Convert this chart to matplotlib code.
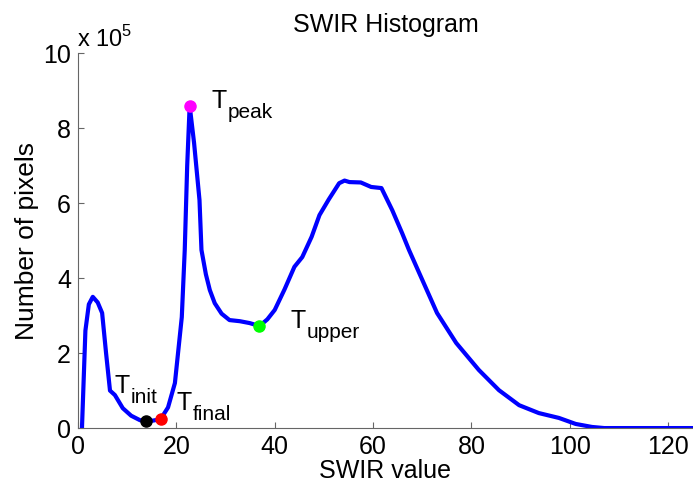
import matplotlib
matplotlib.use("Agg")
import matplotlib.pyplot as plt

plt.rcParams['font.family'] = ['Liberation Sans', 'DejaVu Sans']

# histogram curve (counts in units of 1e5)
swir = [0.8, 1.5, 2.2, 3.0, 4.0, 4.9, 5.7, 6.5, 7.5, 9.1, 10.8, 12.6, 13.8, 15.3, 16.8,
        18.3, 19.7, 21.1, 21.7, 22.2, 22.7, 23.6, 24.7, 25.1, 26.0, 26.8, 27.8, 29.2, 30.8,
        32.9, 34.9, 36.9, 38.5, 40.0, 42.0, 44.0, 45.6, 47.5, 49.1, 51.0, 53.1, 54.2,
        55.2, 57.5, 59.6, 61.7, 63.9, 65.9, 67.3, 69.4, 73.0, 76.9, 81.5, 85.6, 89.7,
        93.7, 97.8, 101.2, 104.5, 107.0, 125.0]
pixels = [0.0, 2.6, 3.3, 3.5, 3.35, 3.07, 2.0, 1.0, 0.88, 0.53, 0.33, 0.21, 0.19, 0.2, 0.24,
          0.55, 1.2, 2.96, 4.75, 7.0, 8.6, 7.6, 6.08, 4.75, 4.1, 3.68, 3.33, 3.05, 2.88,
          2.85, 2.8, 2.72, 2.9, 3.15, 3.7, 4.3, 4.56, 5.1, 5.68, 6.1, 6.53, 6.6,
          6.56, 6.55, 6.43, 6.4, 5.81, 5.2, 4.75, 4.13, 3.07, 2.27, 1.55, 1.01, 0.61,
          0.4, 0.27, 0.11, 0.03, 0.0, 0.0]

# threshold points
pt_names = ["init", "final", "peak", "upper"]
pt_x = [13.8, 16.8, 22.7, 36.9]
pt_y = [0.19, 0.24, 8.6, 2.72]
pt_colors = ["black", "red", "magenta", "lime"]
lbl_x = [7.5, 20.1, 27.2, 43.2]
lbl_y = [0.93, 0.48, 8.53, 2.67]

fig = plt.figure(figsize=(6.93, 4.87), dpi=100)
ax = fig.add_axes([0.1126, 0.121, 0.887, 0.77])

ax.plot(swir, pixels, color="blue", linewidth=3)
for x, y, c in zip(pt_x, pt_y, pt_colors):
    ax.plot(x, y, "o", color=c, markersize=8, zorder=3)
for n, x, y in zip(pt_names, lbl_x, lbl_y):
    ax.text(x, y, "T", fontsize=18, va="baseline")
    ax.annotate(n, (x, y), xytext=(11.5, -7), textcoords="offset points",
                fontsize=15, va="baseline")

ax.set_xlim(0, 125)
ax.set_ylim(0, 10)
ax.set_xticks([0, 20, 40, 60, 80, 100, 120])
ax.set_yticks([0, 2, 4, 6, 8, 10])
ax.tick_params(direction="in", labelsize=18, color="#666666", length=4, pad=5)
for s in ["top", "right"]:
    ax.spines[s].set_visible(False)
for s in ["left", "bottom"]:
    ax.spines[s].set_color("#666666")
ax.text(-0.002, 1.016, "x 10$^{\\mathregular{5}}$", transform=ax.transAxes, fontsize=17)

ax.set_title("SWIR Histogram", fontsize=18, pad=15)
ax.set_xlabel("SWIR value", fontsize=18, labelpad=0)
ax.set_ylabel("Number of pixels", fontsize=19, labelpad=3)

fig.savefig("out.png", dpi=100)
